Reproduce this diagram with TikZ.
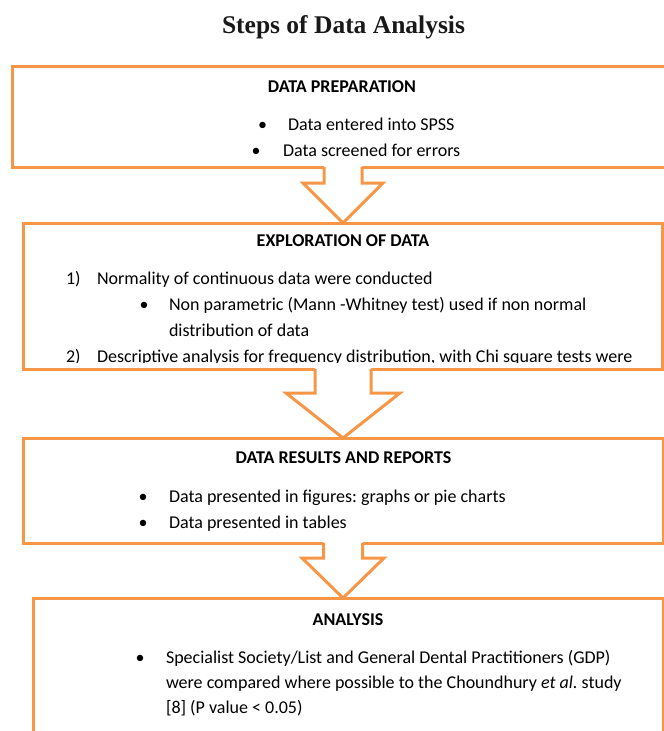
\documentclass[tikz,border=0pt]{standalone}
\usepackage{fontspec}
\setmainfont{Carlito}
\newfontfamily\titlefont{Liberation Serif}
\usetikzlibrary{calc}
\definecolor{boxorange}{HTML}{F79646}
\frenchspacing

% block arrow from box #1 to box #2: shaft half width #3, head half width #4, shaft length #5
\newcommand{\blockarrow}[5]{%
\path (#1.south -| axis) coordinate (ba-top) (#2.north -| axis) coordinate (ba-tip);
\fill [white] ($(ba-top)+(-#3,-2)$) -- ($(ba-top)+(-#3,#5)$) -- ($(ba-top)+(-#4,#5)$) -- (ba-tip)
  -- ($(ba-top)+(#4,#5)$) -- ($(ba-top)+(#3,#5)$) -- ($(ba-top)+(#3,-2)$) -- cycle;
\draw [flowline] ($(ba-top)+(-#3,0)$) -- ($(ba-top)+(-#3,#5)$) -- ($(ba-top)+(-#4,#5)$) -- (ba-tip)
  -- ($(ba-top)+(#4,#5)$) -- ($(ba-top)+(#3,#5)$) -- ($(ba-top)+(#3,0)$);
}

\begin{document}
\begin{tikzpicture}[x=1pt,y=-1pt,
  every node/.style={inner sep=0pt, outer sep=0pt},
  flowline/.style={draw=boxorange, line width=3pt},
  stepbox/.style={flowline, rectangle, anchor=north west},
  body/.style={font=\fontsize{18}{22}\selectfont, anchor=base west},
  head/.style={font=\fontsize{18}{22}\selectfont\bfseries, anchor=base},
  dot/.style={font=\fontsize{18}{22}\selectfont, anchor=base}]
\useasboundingbox (0,0) rectangle (664,731);
\clip (0,0) rectangle (664,731);
\coordinate (axis) at (343,0);
\node [font=\titlefont\bfseries\fontsize{25.5}{30}\selectfont, anchor=base, text=black!90] (title) at (343.5,33) {Steps of Data Analysis};
\node [stepbox, minimum width=680pt, minimum height=101pt] (prep) at (12,66) {};
\node [stepbox, minimum width=639pt, minimum height=146pt] (explore) at (23,223) {};
\node [stepbox, minimum width=640pt, minimum height=105pt] (results) at (23,438) {};
\node [stepbox, minimum width=630pt, minimum height=150pt] (analysis) at (33,598) {};
\node [head] (prephead) at (342,92) {DATA PREPARATION};
\node [dot] (prepdota) at (262.5,130) {•};
\node [body] (prepa) at (288,130) {Data entered into SPSS};
\node [dot] (prepdotb) at (256,156) {•};
\node [body] (prepb) at (283,156) {Data screened for errors};
\node [head] (explorehead) at (343,246) {EXPLORATION OF DATA};
\node [body] (explorenuma) at (66,284) {1)};
\node [body] (explorea) at (97,284) {Normality of continuous data were conducted};
\node [dot] (exploredot) at (144,310) {•};
\node [body] (exploreb) at (169,310) {Non parametric (Mann -Whitney test) used if non normal};
\node [body] (explorec) at (169,336) {distribution of data};
\begin{scope}
\clip (explore.north west) rectangle ($(explore.east)!1!(explore.east |- 0,362.5)$);
\node [body] (explorenumb) at (66,362) {2)};
\node [body] (exploree) at (97,362) {Descriptive analysis for frequency distribution, with Chi square tests were};
\end{scope}
\node [head] (resultshead) at (343.5,463) {DATA RESULTS AND REPORTS};
\node [dot] (resultsdota) at (143,502) {•};
\node [body] (resultsa) at (169,502) {Data presented in figures: graphs or pie charts};
\node [dot] (resultsdotb) at (143,528) {•};
\node [body] (resultsb) at (169,528) {Data presented in tables};
\node [head] (analysishead) at (348,625) {ANALYSIS};
\node [dot] (analysisdot) at (140,663) {•};
\node [body] (analysisa) at (166,663) {Specialist Society/List and General Dental Practitioners (GDP)};
\node [body] (analysisb) at (166,688) {were compared where possible to the Choundhury \textit{et al.} study};
\node [body] (analysisc) at (166,713) {[8] (P value < 0.05)};
\blockarrow{prep}{explore}{19}{40}{16}
\blockarrow{explore}{results}{28}{57}{24}
\blockarrow{results}{analysis}{19.5}{41}{15}
\end{tikzpicture}
\end{document}
